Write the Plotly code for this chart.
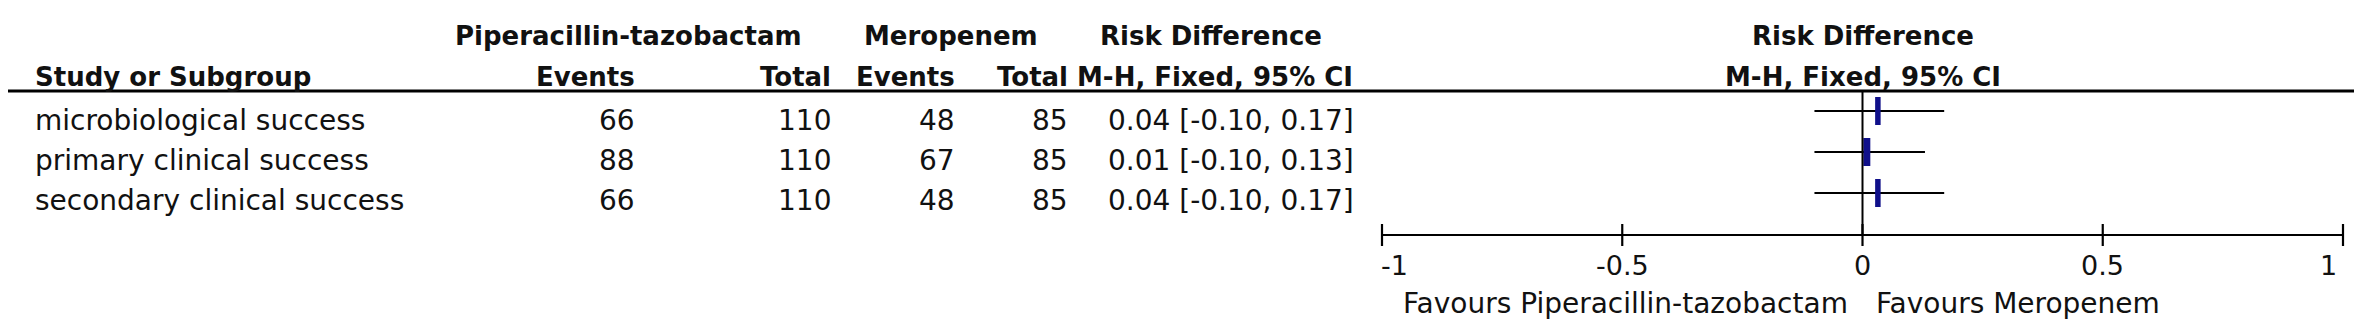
import plotly.graph_objects as go

# ---------------- data ----------------
studies = ["microbiological success", "primary clinical success", "secondary clinical success"]
pip_events = [66, 88, 66]
pip_total = [110, 110, 110]
mer_events = [48, 67, 48]
mer_total = [85, 85, 85]
rd_point = [0.032, 0.009, 0.032]          # marker position (risk difference)
rd_text = ["0.04", "0.01", "0.04"]        # displayed estimate
ci_lo = [-0.10, -0.10, -0.10]
ci_hi = [0.17, 0.13, 0.17]
ci_lo_text = ["-0.10", "-0.10", "-0.10"]
ci_hi_text = ["0.17", "0.13", "0.17"]
tick_vals = [-1, -0.5, 0, 0.5, 1]
tick_text = ["-1", "-0.5", "0", "0.5", "1"]
group1 = "Piperacillin-tazobactam"
group2 = "Meropenem"
favours_left = "Favours Piperacillin-tazobactam"
favours_right = "Favours Meropenem"

# ---------------- layout helpers ----------------
W, H = 2362, 328
def px(x):
    return x / W
def py(y):
    return 1 - y / H

BODY = dict(family="DejaVu Sans", size=28, color="#111")
BOLD = dict(family="DejaVu Sans", size=26, color="#111", weight="bold")
TICK = dict(family="DejaVu Sans", size=27, color="#111")
NAVY = "#10108a"

rows = list(range(len(studies)))

fig = go.Figure()

# confidence interval lines
cx, cy = [], []
for r, lo, hi in zip(rows, ci_lo, ci_hi):
    cx += [lo, hi, None]
    cy += [r, r, None]
fig.add_trace(go.Scatter(x=cx, y=cy, mode="lines",
                         line=dict(color="#000", width=2.2),
                         hoverinfo="skip", showlegend=False))
# point estimates
fig.add_trace(go.Scatter(x=rd_point, y=rows, mode="markers",
                         marker=dict(symbol="line-ns", size=20,
                                     line=dict(color=NAVY, width=[5.5, 7, 5.5])),
                         hoverinfo="skip", showlegend=False))

shapes = []
# header rule
shapes.append(dict(type="line", xref="paper", yref="paper", x0=0, x1=1,
                   y0=py(83), y1=py(83), line=dict(color="#000", width=3)))
# line of no effect
shapes.append(dict(type="line", xref="x", yref="paper", x0=0, x1=0,
                   y0=py(83), y1=py(227), line=dict(color="#000", width=2)))
# bottom axis
shapes.append(dict(type="line", xref="x", yref="paper", x0=tick_vals[0], x1=tick_vals[-1],
                   y0=py(227), y1=py(227), line=dict(color="#000", width=2.2)))
for t in tick_vals:
    shapes.append(dict(type="line", xref="x", yref="paper", x0=t, x1=t,
                       y0=py(216), y1=py(238), line=dict(color="#000", width=2.2)))

ann = []
def txt(x, y, s, font, anchor="left", xref="paper"):
    ann.append(dict(x=x, y=y, xref=xref, yref="paper", text=s, showarrow=False,
                    xanchor=anchor, yanchor="middle", font=font))

# header row 1
txt(px(621), py(28), group1, BOLD, "center")
txt(px(943), py(28), group2, BOLD, "center")
txt(px(1203), py(28), "Risk Difference", BOLD, "center")
txt(0, py(28), "Risk Difference", BOLD, "center", xref="x")
# header row 2
hy = py(69)
txt(px(25), hy, "Study or Subgroup", BOLD, "left")
txt(px(629), hy, "Events", BOLD, "right")
txt(px(825), hy, "Total", BOLD, "right")
txt(px(949), hy, "Events", BOLD, "right")
txt(px(1062), hy, "Total", BOLD, "right")
txt(px(1347), hy, "M-H, Fixed, 95% CI", BOLD, "right")
txt(0, hy, "M-H, Fixed, 95% CI", BOLD, "center", xref="x")

# body rows
row_y = [112, 152, 192]
for i in rows:
    y = py(row_y[i])
    txt(px(25), y, studies[i], BODY, "left")
    txt(px(629), y, str(pip_events[i]), BODY, "right")
    txt(px(825), y, str(pip_total[i]), BODY, "right")
    txt(px(949), y, str(mer_events[i]), BODY, "right")
    txt(px(1062), y, str(mer_total[i]), BODY, "right")
    txt(px(1348), y, f"{rd_text[i]} [{ci_lo_text[i]}, {ci_hi_text[i]}]", BODY, "right")

# tick labels
for j, (t, s) in enumerate(zip(tick_vals, tick_text)):
    if j == 0:
        anchor, shift = "left", -3
    elif j == len(tick_vals) - 1:
        anchor, shift = "right", -4
    else:
        anchor, shift = "center", 0
    ann.append(dict(x=t, y=py(257), xref="x", yref="paper", text=s, showarrow=False,
                    xanchor=anchor, yanchor="middle", xshift=shift, font=TICK))

# favours labels
txt(px(1842), py(295), favours_left, BODY, "right")
txt(px(1866), py(295), favours_right, BODY, "left")

# axis ranges: -1 -> 1374 px, 1 -> 2335 px ; row i -> 103 + 41*i px
scale = (2335 - 1374) / 2.0
x0v = -1 - 1374 / scale
x1v = 1 + (W - 2335) / scale
y_top = (0 - 103) / 41
y_bot = (H - 103) / 41

fig.update_layout(
    width=W, height=H,
    margin=dict(l=0, r=0, t=0, b=0, pad=0),
    paper_bgcolor="white", plot_bgcolor="white",
    xaxis=dict(range=[x0v, x1v], visible=False, fixedrange=True),
    yaxis=dict(range=[y_bot, y_top], visible=False, fixedrange=True),
    shapes=shapes, annotations=ann, showlegend=False, hovermode=False,
)

fig.write_html("out.html")
